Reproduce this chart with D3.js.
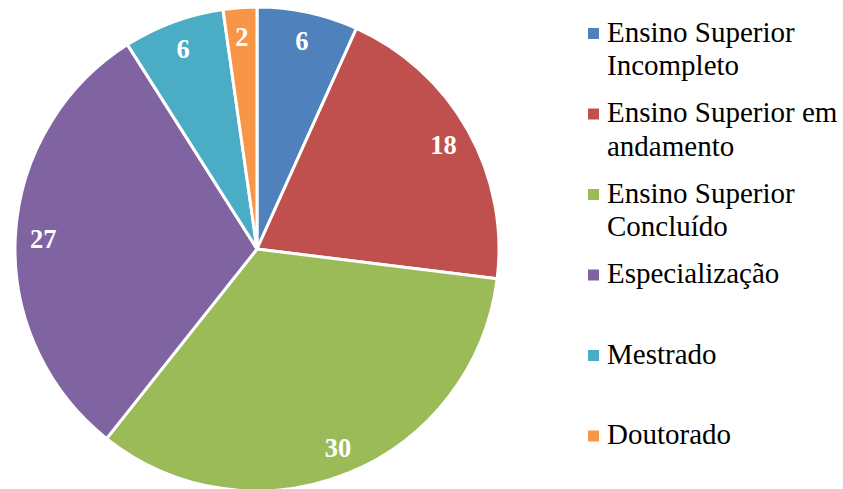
<!DOCTYPE html>
<html>
<head>
<meta charset="utf-8">
<script src="https://cdn.jsdelivr.net/npm/d3@7"></script>
<style>
  html, body { margin: 0; padding: 0; background: #fff; }
  svg { display: block; }
</style>
</head>
<body>
<svg id="chart" width="843" height="489"></svg>
<script>
const categories = [
  ["Ensino Superior", "Incompleto"],
  ["Ensino Superior em", "andamento"],
  ["Ensino Superior", "Concluído"],
  ["Especialização"],
  ["Mestrado"],
  ["Doutorado"]
];
const values = [6, 18, 30, 27, 6, 2];
const colors = ["#4F81BD", "#C0504D", "#9BBB59", "#8064A2", "#4BACC6", "#F79646"];

const FONT = "'Liberation Serif', 'Times New Roman', serif";
const svg = d3.select("#chart");
const cx = 257, cy = 249, R = 242, labelR = 214;

const data = values.map((v, i) => ({ value: v, name: categories[i], color: colors[i] }));
const pie = d3.pie().value(d => d.value).sort(null);
const arcs = pie(data);
const arc = d3.arc().innerRadius(0).outerRadius(R);
const labelArc = d3.arc().innerRadius(labelR).outerRadius(labelR);

const g = svg.append("g").attr("transform", `translate(${cx},${cy})`);
g.selectAll("path").data(arcs).enter().append("path")
  .attr("d", arc)
  .attr("fill", d => d.data.color)
  .attr("stroke", "#fff")
  .attr("stroke-width", 3)
  .attr("stroke-linejoin", "round");

g.selectAll("text.lbl").data(arcs).enter().append("text")
  .attr("class", "lbl")
  .attr("transform", d => `translate(${labelArc.centroid(d)})`)
  .attr("text-anchor", "middle")
  .attr("dy", "0.38em")
  .attr("fill", "#fff")
  .style("font-family", FONT)
  .style("font-weight", "bold")
  .style("font-size", "26.5px")
  .text(d => d.data.value);

// Legend
const legY = d3.scaleLinear().domain([0, categories.length - 1]).range([33, 435.5]);
const leg = svg.append("g");
const items = leg.selectAll("g").data(data).enter().append("g")
  .attr("transform", (d, i) => `translate(0,${legY(i)})`);
items.append("rect")
  .attr("x", 588).attr("y", -5).attr("width", 11).attr("height", 11)
  .attr("fill", d => d.color);
items.append("text")
  .attr("x", 607)
  .attr("y", 8.5)
  .attr("fill", "#000")
  .style("font-family", FONT)
  .style("font-size", "29px")
  .selectAll("tspan").data(d => d.name).enter().append("tspan")
  .attr("x", 607)
  .attr("dy", (t, j) => j === 0 ? 0 : 33.5)
  .text(t => t);
</script>
</body>
</html>
